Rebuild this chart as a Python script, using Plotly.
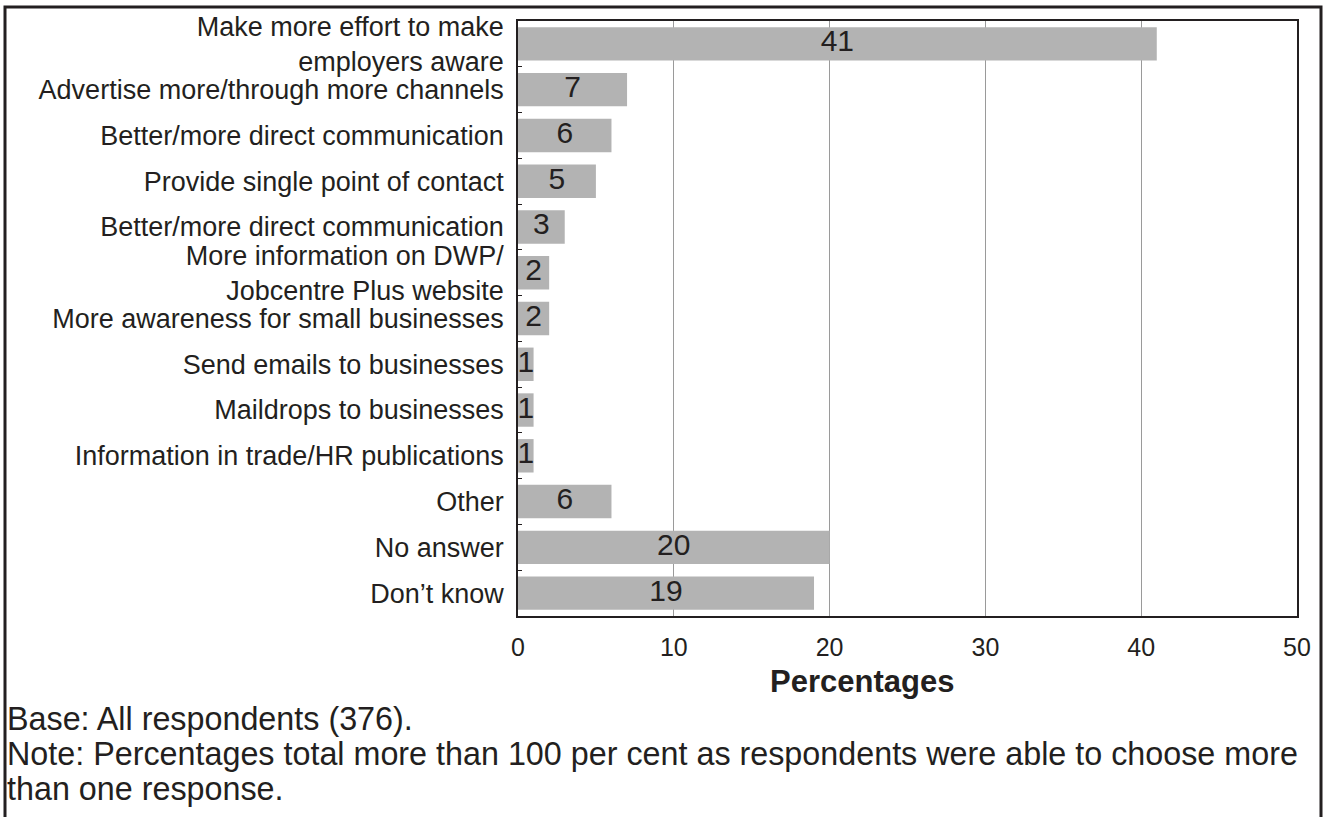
import plotly.graph_objects as go

categories = [
    "Make more effort to make<br>employers aware",
    "Advertise more/through more channels",
    "Better/more direct communication",
    "Provide single point of contact",
    " Better/more direct communication",
    "More information on DWP/<br>Jobcentre Plus website",
    "More awareness for small businesses",
    "Send emails to businesses",
    "Maildrops to businesses",
    "Information in trade/HR publications",
    "Other",
    "No answer",
    "Don\u2019t know",
]
values = [41, 7, 6, 5, 3, 2, 2, 1, 1, 1, 6, 20, 19]
x_ticks = [0, 10, 20, 30, 40, 50]

base_note = "Base: All respondents (376)."
note_line1 = "Note: Percentages total more than 100 per cent as respondents were able to choose more"
note_line2 = "than one response."

FONT = "Liberation Sans, Arial, Helvetica, sans-serif"
TXT = "#231f20"

fig = go.Figure()
fig.add_trace(go.Bar(
    x=values, y=categories, orientation="h",
    marker=dict(color="#b3b3b3", line=dict(width=0)),
    width=0.73, hoverinfo="x+y", showlegend=False,
))
fig.add_trace(go.Scatter(
    x=[v / 2 for v in values], y=categories, mode="text",
    text=[str(v) for v in values],
    textfont=dict(family=FONT, size=30, color=TXT),
    textposition="middle center", showlegend=False, hoverinfo="skip",
))

W, H = 1323, 817
L, R, T, B = 518, 20, 17, 201
pw, ph = W - L - R, H - T - B

def px_x(p):
    return (p - L) / pw

def px_y(p):
    return (H - B - p) / ph

n = len(categories)

fig.update_layout(
    width=W, height=H,
    margin=dict(l=L, r=R, t=T, b=B),
    paper_bgcolor="white", plot_bgcolor="white",
    font=dict(family=FONT, color=TXT),
    bargap=0.27,
    xaxis=dict(
        range=[0, 50], tickvals=x_ticks, ticktext=[str(t) for t in x_ticks],
        showgrid=True, gridcolor="#9a9a9a", gridwidth=1,
        showline=True, linecolor=TXT, linewidth=1.5, mirror=True,
        ticks="", zeroline=False,
        tickfont=dict(family=FONT, size=25, color=TXT),
        ticklabelstandoff=8,
    ),
    yaxis=dict(
        categoryorder="array", categoryarray=categories,
        range=[n - 0.5, -0.5],
        showgrid=False, showline=True, linecolor=TXT, linewidth=1.5, mirror=True,
        ticks="inside", tickson="boundaries", ticklen=4, tickcolor=TXT,
        tickfont=dict(family=FONT, size=27, color=TXT),
        ticklabelstandoff=7,
    ),
    shapes=[dict(
        type="rect", xref="paper", yref="paper",
        xsizemode="pixel", ysizemode="pixel", xanchor=0, yanchor=0,
        x0=5 - L, x1=1321 - L, y0=-(B + 20), y1=(H - B) - 7,
        line=dict(color="#231f20", width=3), fillcolor="rgba(0,0,0,0)",
    )],
    annotations=[
        dict(text="<b>Percentages</b>", xref="paper", yref="paper",
             x=px_x(865), y=px_y(682), xanchor="center", yanchor="middle",
             showarrow=False, font=dict(family=FONT, size=31, color=TXT)),
    ] + [
        dict(text=t, xref="paper", yref="paper", x=px_x(1), y=px_y(yc),
             xanchor="left", yanchor="middle", showarrow=False,
             font=dict(family=FONT, size=32.3, color=TXT))
        for t, yc in [
            (base_note, 720),
            (note_line1, 755),
            (note_line2, 790),
        ]
    ],
)

fig.write_html("out.html")
